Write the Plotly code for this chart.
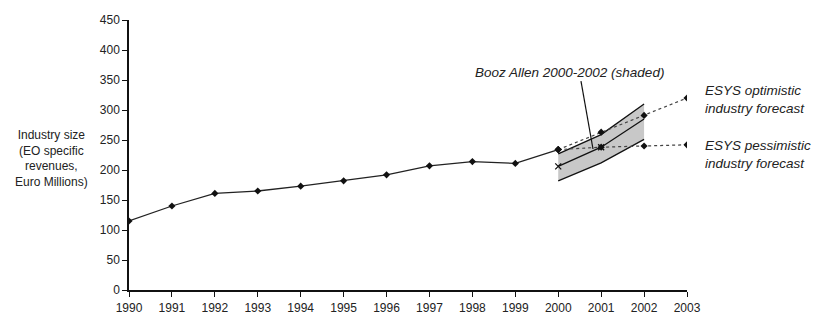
import plotly.graph_objects as go

years_hist = [1990, 1991, 1992, 1993, 1994, 1995, 1996, 1997, 1998, 1999, 2000]
size_hist = [115, 140, 161, 165, 173, 182, 192, 207, 214, 211, 234]

years_fc = [2000, 2001, 2002, 2003]
optimistic = [234, 263, 291, 320]
pessimistic = [234, 238, 240, 242]

years_ba = [2000, 2001, 2002]
ba_central = [206, 238, 285]
ba_upper = [227, 259, 310]
ba_lower = [182, 212, 251]

x_ticks = list(range(1990, 2004))
y_ticks = list(range(0, 451, 50))

FONT = "Liberation Sans, Arial, sans-serif"

fig = go.Figure()

# shaded band
fig.add_trace(go.Scatter(x=years_ba + years_ba[::-1], y=ba_upper + ba_lower[::-1],
                         fill="toself", fillcolor="#c8c8c8", line=dict(width=0),
                         mode="lines", hoverinfo="skip", showlegend=False))
fig.add_trace(go.Scatter(x=years_ba, y=ba_upper, mode="lines",
                         line=dict(color="#111", width=1.3), showlegend=False))
fig.add_trace(go.Scatter(x=years_ba, y=ba_lower, mode="lines",
                         line=dict(color="#111", width=1.3), showlegend=False))
fig.add_trace(go.Scatter(x=years_ba, y=ba_central, mode="lines",
                         line=dict(color="#111", width=1.3), showlegend=False))
fig.add_trace(go.Scatter(x=years_ba[:2], y=ba_central[:2], mode="markers",
                         marker=dict(symbol="x-thin", size=6, line=dict(color="#111", width=1.3)),
                         showlegend=False))

# forecasts
fig.add_trace(go.Scatter(x=years_fc, y=optimistic, mode="lines+markers",
                         line=dict(color="#444", width=1.2, dash="dot"),
                         marker=dict(symbol="diamond", size=5.5, color="#111"), showlegend=False))
fig.add_trace(go.Scatter(x=years_fc, y=pessimistic, mode="lines+markers",
                         line=dict(color="#444", width=1.2, dash="dot"),
                         marker=dict(symbol="diamond", size=5.5, color="#111"), showlegend=False))

# history
fig.add_trace(go.Scatter(x=years_hist, y=size_hist, mode="lines+markers",
                         line=dict(color="#222", width=1.3),
                         marker=dict(symbol="diamond", size=5.5, color="#111"), showlegend=False))

tf = dict(family=FONT, size=12, color="#222")
lf = dict(family=FONT, size=13.5, color="#222")

# Booz Allen label and pointer
fig.add_shape(type="line", x0=2000.53, y0=348, x1=2000.81, y1=235,
              line=dict(color="#111", width=1.2))
fig.add_annotation(x=2000.26, y=363, text="<i>Booz Allen 2000-2002 (shaded)</i>",
                   showarrow=False, font=lf, xanchor="center", yanchor="middle")
fig.add_annotation(xref="paper", yref="paper", x=1.028, y=(290 - 99) / 270, xanchor="left", yanchor="middle",
                   text="<i>ESYS optimistic<br>industry forecast</i>", showarrow=False, align="left", font=lf)
fig.add_annotation(xref="paper", yref="paper", x=1.028, y=(290 - 154) / 270, xanchor="left", yanchor="middle",
                   text="<i>ESYS pessimistic<br>industry forecast</i>", showarrow=False, align="left", font=lf)
fig.add_annotation(xref="paper", yref="paper", x=-0.138, y=(290 - 158) / 270, xanchor="center", yanchor="middle",
                   text="Industry size<br>(EO specific<br>revenues,<br>Euro Millions)", showarrow=False,
                   align="center", font=tf)

fig.update_xaxes(range=[1990, 2003], tickvals=x_ticks, ticktext=[str(v) for v in x_ticks],
                 showgrid=False, zeroline=False, showline=True, linecolor="#111", linewidth=1.5,
                 ticks="outside", ticklen=5, tickcolor="#111", tickfont=tf, ticklabelstandoff=1,
                 automargin=False)
fig.update_yaxes(range=[0, 450], tickvals=y_ticks, showgrid=False, zeroline=False,
                 showline=True, linecolor="#111", linewidth=1.5,
                 ticks="outside", ticklen=5, tickcolor="#111", tickfont=tf, automargin=False)

fig.update_layout(width=813, height=314, margin=dict(l=129, r=126, t=20, b=24),
                  plot_bgcolor="white", paper_bgcolor="white", showlegend=False)

fig.write_html("out.html", config={"displayModeBar": False},
               post_script="document.body.style.margin='0';document.body.style.overflow='hidden';")
